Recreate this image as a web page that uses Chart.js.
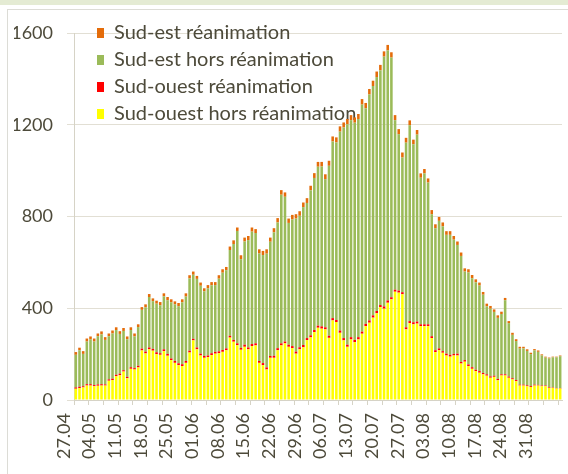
<!DOCTYPE html>
<html lang="fr">
<head>
<meta charset="utf-8">
<title>Hospitalisations sud-est / sud-ouest</title>
<script src="https://cdn.jsdelivr.net/npm/chart.js@4.4.1/dist/chart.umd.min.js"></script>
<style>
  html, body { margin: 0; padding: 0; background: #fff; }
  #wrap { position: relative; width: 568px; height: 474px; overflow: hidden; }
  #topband { position: absolute; left: 0; top: 0; width: 568px; height: 5px; background: #e4ebd3; }
  #frame { position: absolute; left: 7px; top: 9px; width: 570px; height: 480px; border: 1px solid #dcdcd6; }
  canvas { position: absolute; left: 0; top: 0; }
</style>
</head>
<body>
<div id="wrap">
  <div id="topband"></div>
  <div id="frame"></div>
  <canvas id="mainCanvas" width="568" height="474"></canvas>
</div>
<script>
// daily values, 27.04 -> 06.09
const sudOuestHors = [
  49, 52, 55, 63, 63, 60, 62, 63, 63, 84,
  87, 104, 108, 124, 95, 136, 133, 142, 216, 203,
  221, 215, 200, 197, 213, 193, 174, 162, 152, 148,
  162, 207, 260, 221, 194, 184, 187, 196, 202, 204,
  210, 217, 272, 254, 239, 219, 232, 221, 235, 238,
  162, 152, 133, 184, 184, 217, 238, 247, 232, 226,
  202, 221, 230, 261, 273, 296, 315, 311, 308, 271,
  347, 340, 293, 260, 232, 264, 252, 264, 289, 322,
  337, 359, 378, 405, 398, 424, 439, 472, 468, 461,
  308, 335, 330, 333, 322, 322, 322, 270, 209, 217,
  206, 194, 189, 194, 194, 159, 167, 148, 136, 126,
  119, 112, 106, 97, 101, 86, 107, 107, 97, 90,
  82, 63, 63, 60, 57, 63, 63, 60, 60, 53,
  53, 50, 50
];

const sudOuestRea = [
  6, 6, 5, 6, 6, 5, 6, 6, 5, 6, 6, 6, 7, 6, 6, 7, 6, 7,
  8, 8, 8, 8, 8, 7, 8, 8, 7, 8, 8, 8, 8, 8, 7, 8, 8, 8, 7, 8, 8, 8, 8, 8, 8, 8, 8,
  8, 9, 8, 9, 9, 8, 9, 9, 8, 9, 9, 9, 8, 9, 9, 9, 9, 10, 9, 9,
  9, 9, 10, 9, 9, 10, 9, 10, 10, 9, 10, 10, 10, 9, 10, 10, 10, 10, 9, 10,
  10, 9, 9, 9, 9, 9, 9,
  9, 9, 8, 8, 8, 8, 8, 8, 7, 8, 8, 7, 8, 7, 7, 7, 7, 6, 7, 6,
  6, 6, 5, 6, 5, 5, 5, 5, 5, 4, 4, 4, 4, 4, 3, 3, 3, 3, 2, 2, 2
];

const sudEstHors = [
  142, 159, 141, 186, 196, 190, 210, 217, 194, 188,
  197, 195, 173, 171, 164, 162, 138, 169, 169, 193,
  220, 208, 212, 209, 231, 234, 245, 247, 249, 270,
  281, 315, 279, 299, 296, 282, 293, 296, 291, 317,
  337, 341, 374, 418, 490, 387, 450, 468, 490, 481,
  469, 471, 496, 498, 538, 548, 648, 631, 531, 552,
  580, 573, 601, 589, 632, 663, 693, 697, 646, 741,
  770, 774, 867, 918, 961, 946, 947, 951, 990, 940,
  985, 1000, 1020, 1023, 1089, 1090, 1045, 739, 682, 587,
  805, 854, 776, 815, 639, 658, 618, 532, 532, 556,
  544, 518, 523, 498, 474, 462, 386, 401, 388, 381,
  373, 341, 296, 295, 278, 266, 263, 323, 233, 189,
  170, 157, 158, 150, 139, 149, 144, 131, 122, 125,
  131, 134, 139
];

const sudEstRea = [
  12, 11, 12, 13, 12, 13, 12, 13, 12, 12, 13, 12, 12, 13, 12, 12, 13, 12, 12, 13, 13, 12,
  13, 14, 13, 14, 13, 13, 14, 13, 14, 14, 14, 13, 14, 13, 14, 14, 13, 15, 15, 14, 15, 16, 15,
  17, 17, 18, 18, 17, 18, 18, 19, 18, 18, 19, 20, 19, 19, 20, 19, 20, 20, 21, 20, 21, 21, 20, 21, 22,
  22, 22, 23, 22, 23, 22, 23, 22, 24, 23, 24, 23, 24, 24, 23, 24, 23, 22, 22, 22, 21, 21,
  20, 20, 19, 19, 18, 18, 17, 17, 17, 16, 16, 16, 15,
  15, 14, 14, 14, 13, 13, 12, 12, 12, 11, 11, 10, 10, 9, 9,
  8, 8, 7, 7, 6, 6, 6, 5, 4, 4, 3, 3, 3
];

const tickLabels = [
  '27.04', '04.05', '11.05', '18.05', '25.05', '01.06', '08.06', '15.06', '22.06', '29.06',
  '06.07', '13.07', '20.07', '27.07', '03.08', '10.08', '17.08', '24.08', '31.08'
];

// one category per day
const dayLabels = [];
for (let i = 0; i < sudOuestHors.length; i++) {
  const d = new Date(2020, 3, 27 + i);
  dayLabels.push(String(d.getDate()).padStart(2, '0') + '.' + String(d.getMonth() + 1).padStart(2, '0'));
}

const textColor = '#4d4a3a';
const gridColor = '#e2dfd4';
const axisColor = '#d6d3c6';

// legend sits inside the plot, top-left, like the Excel original
const legendNudge = {
  id: 'legendNudge',
  afterLayout(chart) {
    const lg = chart.legend;
    if (!lg) return;
    lg.right = lg.right - lg.left + 90;
    lg.left = 90;
    lg.bottom = lg.bottom - lg.top + 16;
    lg.top = 16;
  }
};

Chart.defaults.font.family = 'Lato, "Open Sans", sans-serif';
Chart.defaults.font.size = 18;
Chart.defaults.color = textColor;

const ctx = document.getElementById('mainCanvas').getContext('2d');
new Chart(ctx, {
  type: 'bar',
  data: {
    labels: dayLabels,
    datasets: [
      { label: 'Sud-ouest hors réanimation', data: sudOuestHors, backgroundColor: '#FFFF00' },
      { label: 'Sud-ouest réanimation', data: sudOuestRea, backgroundColor: '#FF0000' },
      { label: 'Sud-est hors réanimation', data: sudEstHors, backgroundColor: '#9BBB59' },
      { label: 'Sud-est réanimation', data: sudEstRea, backgroundColor: '#E46C0A' }
    ]
  },
  options: {
    responsive: false,
    animation: false,
    layout: { padding: { left: 14, right: 6, top: 33, bottom: 0 } },
    datasets: { bar: { categoryPercentage: 1, barPercentage: 0.7, borderWidth: 0 } },
    plugins: {
      tooltip: { enabled: false },
      legend: {
        position: 'chartArea',
        align: 'start',
        reverse: true,
        labels: { boxWidth: 7, boxHeight: 10, padding: 7, color: textColor, font: { size: 20 } }
      }
    },
    scales: {
      x: {
        stacked: true,
        grid: {
          drawOnChartArea: false,
          tickLength: 5,
          tickColor: c => (c.index % 4 === 0 ? axisColor : 'transparent')
        },
        border: { color: axisColor },
        ticks: {
          autoSkip: false,
          minRotation: 90,
          maxRotation: 90,
          padding: 8,
          labelOffset: -12,
          callback: (v, i) => (tickLabels.includes(dayLabels[i]) ? dayLabels[i] : '')
        },
        afterFit: s => { s.height = 74; s.paddingLeft = 0; s.paddingRight = 0; }
      },
      y: {
        stacked: true,
        min: 0,
        max: 1600,
        grid: { color: gridColor, tickLength: 7 },
        border: { color: axisColor },
        ticks: { stepSize: 400, padding: 14, callback: v => String(v) },
        afterFit: s => { s.width = 60; }
      }
    }
  },
  plugins: [legendNudge]
});
</script>
</body>
</html>
